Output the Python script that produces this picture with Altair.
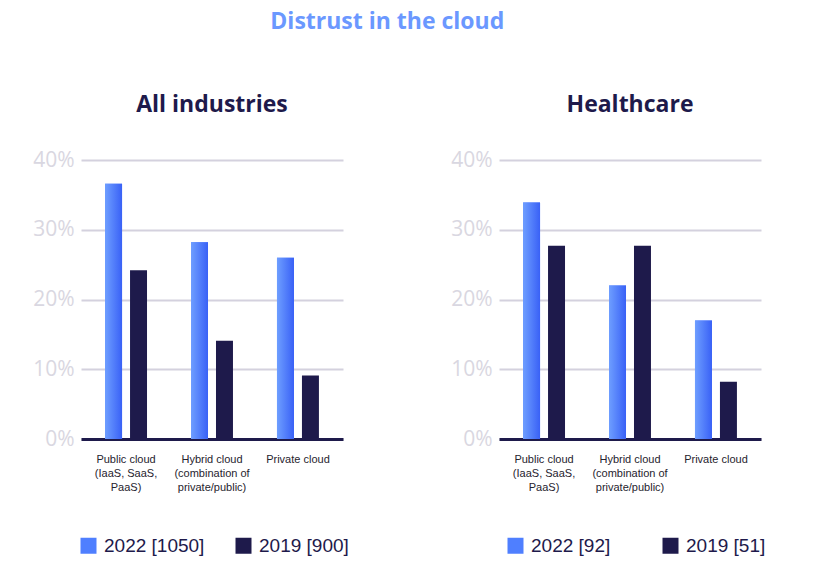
import altair as alt
import pandas as pd

categories = ["Public cloud|(IaaS, SaaS,|PaaS)", "Hybrid cloud|(combination of|private/public)", "Private cloud"]
years = ["2022", "2019"]

all_2022 = [0.366, 0.282, 0.260]
all_2019 = [0.242, 0.141, 0.091]
hc_2022 = [0.339, 0.220, 0.170]
hc_2019 = [0.277, 0.277, 0.082]

all_labels = ["2022 [1050]", "2019 [900]"]
hc_labels = ["2022 [92]", "2019 [51]"]

BLUE = "#4f7fff"
NAVY = "#1e1a4b"
GRID = "#d4d1de"
AXLAB = "#d9d7e1"

gradient = alt.Gradient(
    gradient="linear",
    stops=[alt.GradientStop(color="#6e9eff", offset=0), alt.GradientStop(color="#3961f6", offset=1)],
    x1=0, x2=1, y1=0, y2=0,
)


def panel(title, v22, v19, labels, legend_x, col_pad):
    rows = []
    for c, a, b in zip(categories, v22, v19):
        rows.append({"cat": c, "year": "2022", "series": labels[0], "value": a})
        rows.append({"cat": c, "year": "2019", "series": labels[1], "value": b})
    df = pd.DataFrame(rows)
    base = alt.Chart(df).encode(
        x=alt.X(
            "cat:N", sort=categories, title=None,
            scale=alt.Scale(paddingInner=0.512, paddingOuter=0.28),
            axis=alt.Axis(
                labelAngle=0, labelExpr="split(datum.label, '|')", labelFontSize=11,
                labelColor="#26232e", labelFont="Liberation Sans", labelLineHeight=14,
                labelPadding=14, ticks=False, domain=True, domainColor=NAVY, domainWidth=3,
                labelBaseline="top",
            ),
        ),
        xOffset=alt.XOffset("year:N", scale=alt.Scale(domain=years, paddingInner=0.32, paddingOuter=0)),
        y=alt.Y(
            "value:Q", title=None, scale=alt.Scale(domain=[0, 0.4]),
            axis=alt.Axis(
                values=[0, 0.1, 0.2, 0.3, 0.4], format=".0%", domain=False, ticks=False,
                labelFontSize=21, labelColor=AXLAB, labelFont="Open Sans", labelPadding=7,
                gridColor=GRID, gridWidth=2,
            ),
        ),
    )
    bars = base.mark_bar().encode(
        color=alt.Color(
            "series:N",
            scale=alt.Scale(domain=labels, range=[BLUE, NAVY]),
            legend=alt.Legend(
                title=None, orient="none", direction="horizontal", legendX=legend_x, legendY=376,
                symbolType="square", symbolSize=256, symbolStrokeWidth=0, labelFontSize=19,
                labelFont="Liberation Sans", labelColor=NAVY, labelOffset=6, columnPadding=col_pad,
            ),
        )
    )
    grad = base.transform_filter(alt.datum.year == "2022").mark_bar(color=gradient)
    return alt.layer(bars, grad).properties(
        width=262, height=279,
        title=alt.TitleParams(title, fontSize=23, font="Open Sans", fontWeight="bold", color=NAVY, offset=32),
    )


left = panel("All industries", all_2022, all_2019, all_labels, -2, 29)
right = panel("Healthcare", hc_2022, hc_2019, hc_labels, 7, 50)

chart = alt.hconcat(left, right, spacing=101).resolve_scale(color="independent").properties(
    title=alt.TitleParams("Distrust in the cloud", fontSize=23, font="Open Sans", fontWeight="bold",
                          color="#6b98ff", anchor="middle", offset=60, dx=-12),
    padding={"left": 24, "top": 3, "right": 5, "bottom": 0},
).configure_view(stroke=None)

chart.save("out.html", embed_options={"renderer": "svg", "actions": False})
